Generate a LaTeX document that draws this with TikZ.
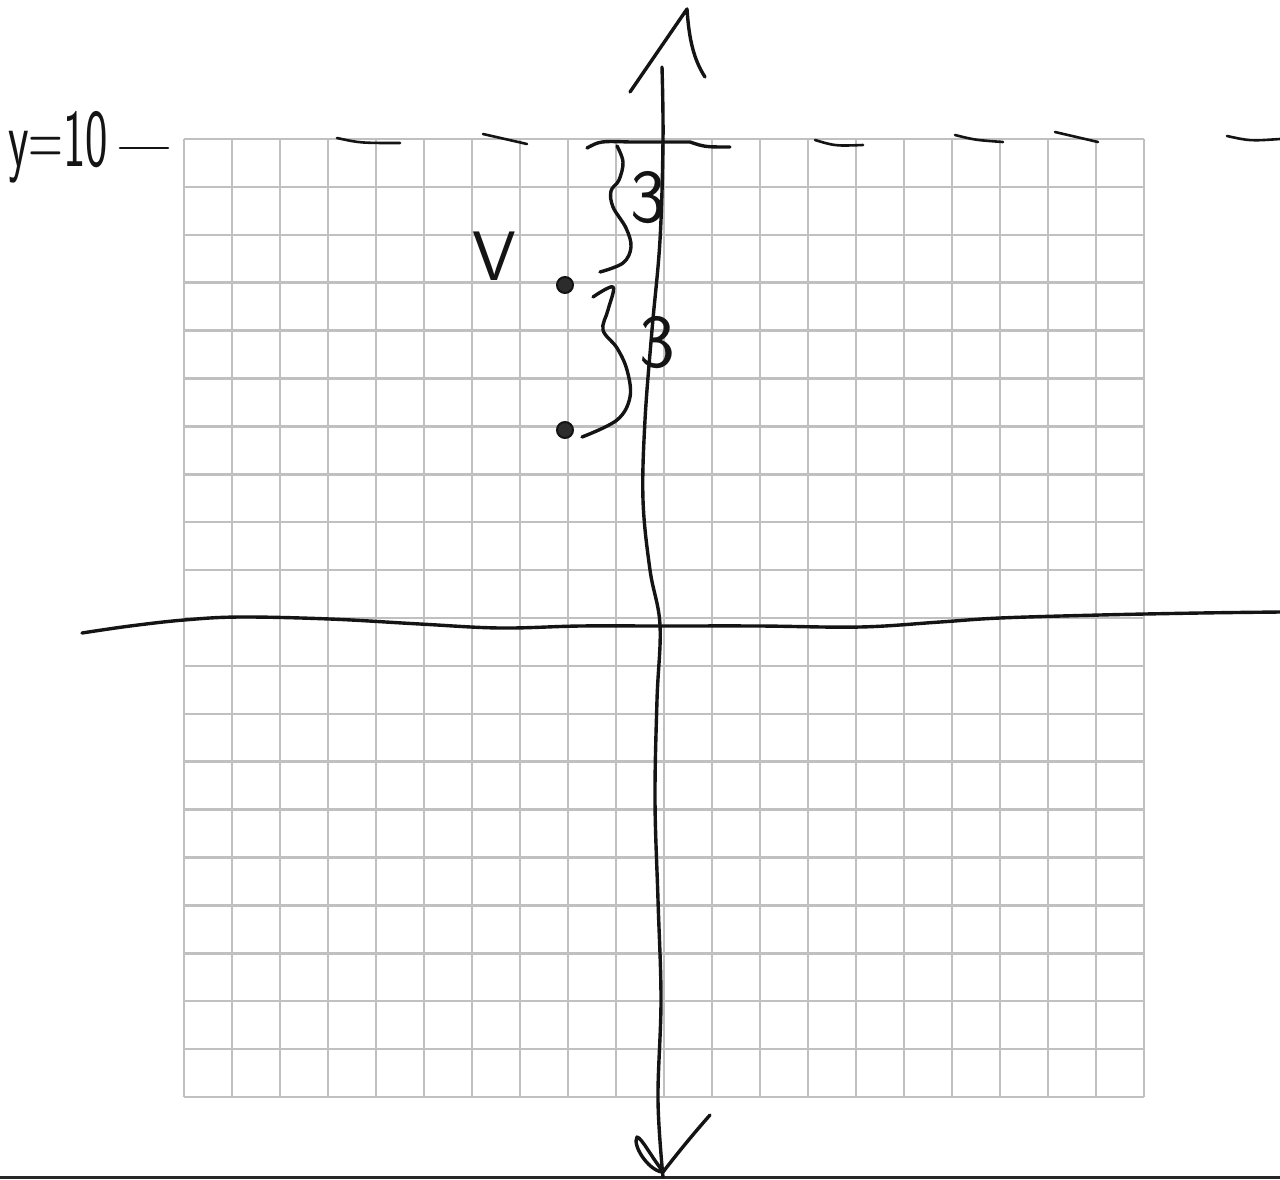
\documentclass[tikz,border=0pt]{standalone}
\definecolor{gridgray}{RGB}{192,192,192}
\definecolor{inkc}{RGB}{20,20,20}
\tikzset{
  gridline/.style={line width=2.5pt, gridgray},
  ink/.style={line width=3.4pt, inkc, line cap=round, line join=round},
  thinink/.style={line width=2.6pt, inkc, line cap=round, line join=round},
  hand/.style={inner sep=0pt, inkc, font=\sffamily\fontsize{#1}{#1}\selectfont},
  dot/.style={circle, minimum size=16pt, inner sep=0pt, fill=inkc!90, draw=inkc, line width=2pt}
}
\begin{document}
\begin{tikzpicture}[x=1pt,y=-1pt]
\useasboundingbox (0,0) rectangle (1280,1179);
\fill[white] (0,0) rectangle (1280,1179);
% grid
\foreach \i in {0,...,20}{
  \draw[gridline] ({184+48*\i},139) -- ({184+48*\i},1097);
  \draw[gridline] (184,{139+47.9*\i}) -- (1144,{139+47.9*\i});
}
% bottom line
\draw[line width=3pt, black!85] (0,1177) -- (1280,1177);
% horizontal axis
\draw[ink] plot[smooth, tension=0.6] coordinates {(82,633) (130,626) (184,620) (240,617) (330,619) (420,624) (500,628) (580,626) (660,626) (760,626) (860,627) (940,622) (1000,618) (1100,615) (1200,613) (1280,612)};
% vertical axis
\draw[ink] plot[smooth, tension=0.6] coordinates {(662,67) (663,140) (660,240) (652,330) (645,420) (643,500) (650,570) (660,625) (657,700) (655,800) (658,900) (661,1000) (658,1100) (663,1177)};
% top arrowhead
\draw[ink] (630,92) -- (687,9) .. controls (689,40) and (694,60) .. (705,77);
% bottom arrowhead
\draw[ink] (663,1172) .. controls (680,1150) and (695,1132) .. (710,1115);
\draw[ink] (662,1172) .. controls (648,1170) and (632,1145) .. (637,1137) .. controls (642,1138) and (652,1158) .. (662,1170);
% dashed line y = 10
\draw[thinink] (120,148) -- (168,148);
\draw[thinink] (337,138) .. controls (360,143) .. (400,143);
\draw[thinink] (483,134) -- (527,144);
\draw[ink] (587,148) .. controls (600,141) .. (630,142) -- (690,142) .. controls (705,147) .. (730,147);
\draw[thinink] (815,140) .. controls (835,146) .. (863,145);
\draw[thinink] (955,135) .. controls (975,140) .. (1003,142);
\draw[thinink] (1055,132) -- (1098,142);
\draw[thinink] (1227,136) .. controls (1250,141) .. (1280,139);
% points
\node[dot] (p1) at (565,285) {};
\node[dot] (p2) at (565,430) {};
% braces
\draw[ink] plot[smooth, tension=0.6] coordinates {(617,146) (623,162) (619,180) (611,191) (613,207) (626,228) (631,247) (623,263) (600,272)};
\coordinate (b2s) at (593,297);
\coordinate (b2e) at (582,437);
\draw[ink] plot[smooth, tension=0.6] coordinates {(b2s) (613,287) (608,310) (603,330) (617,348) (627,370) (630,397) (617,420) (b2e)};
% labels
\node[hand=82, anchor=base west, xscale=0.58] (ylab) at (8,166) {y=10};
\node[hand=70] (vlab) at (494,256) {V};
\node[hand=76] (three1) at (648,198) {3};
\node[hand=76] (three2) at (657,343) {3};
\end{tikzpicture}
\end{document}
